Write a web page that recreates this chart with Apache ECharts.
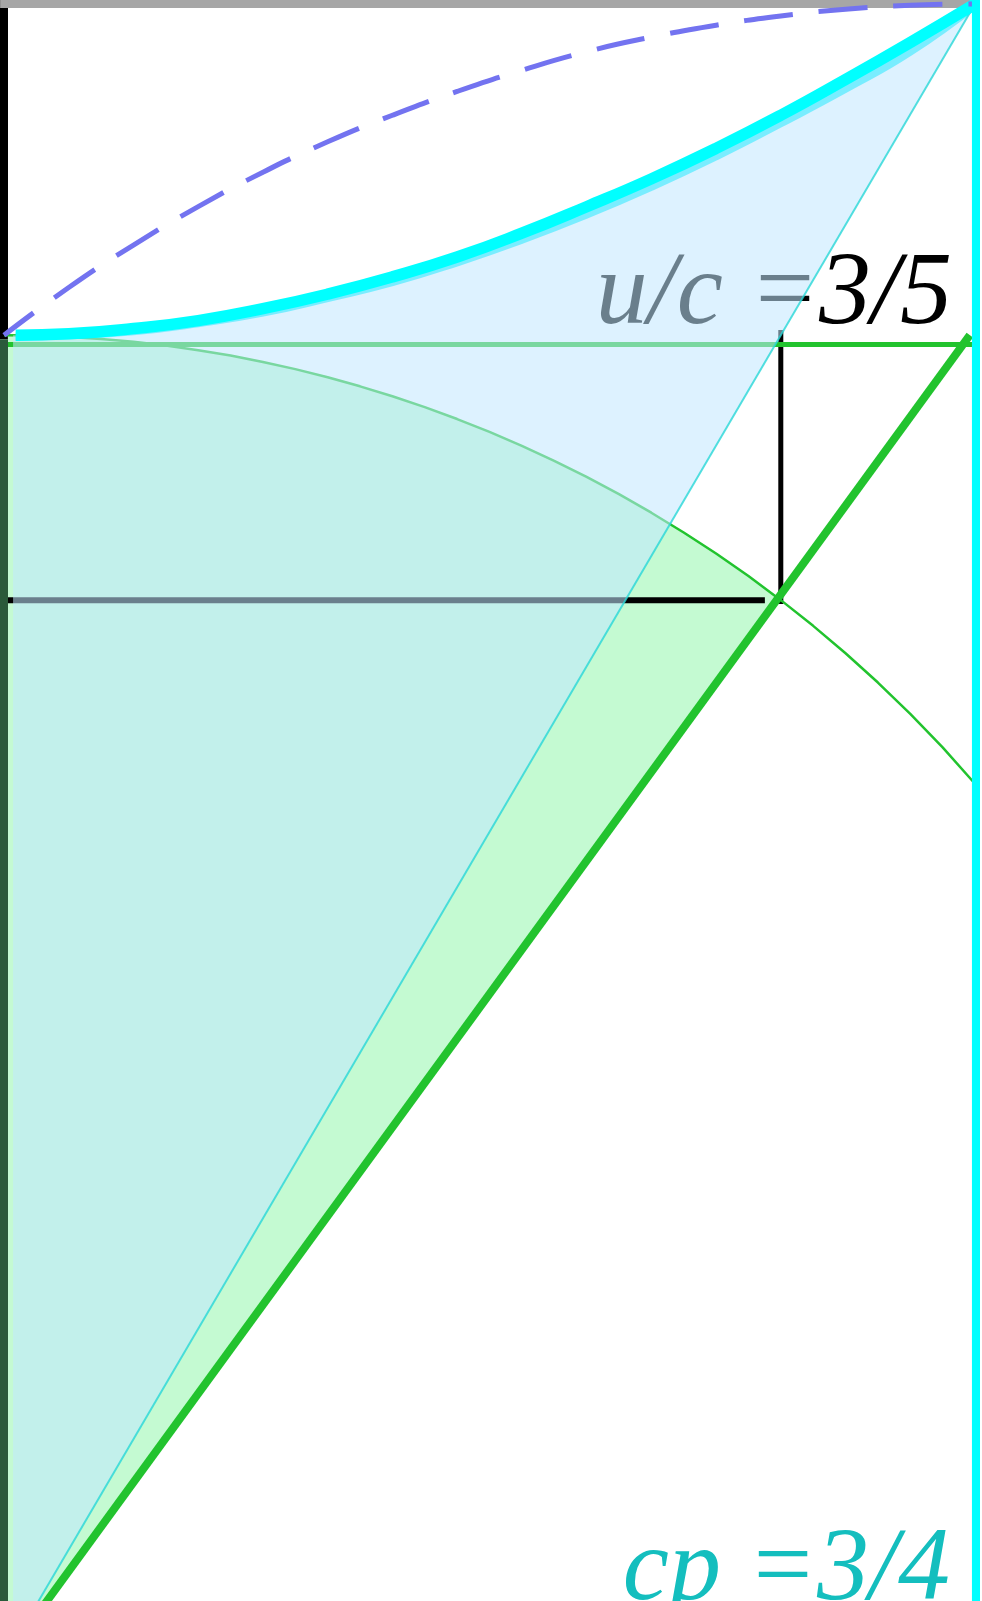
<!DOCTYPE html>
<html>
<head>
<meta charset="utf-8">
<script src="https://cdn.jsdelivr.net/npm/echarts@6/dist/echarts.min.js"></script>
<style>
html,body{margin:0;padding:0;background:#fff;}
#main{width:982px;height:1601px;}
</style>
</head>
<body>
<div id="main"></div>
<script>
// ---- values (x: momentum axis, y: energy axis, unit = rest energy) ----
const speedLabel = 'u/c =3/5';
const momentumLabel = 'cp =3/4';

// hyperbola (thick cyan)
const hyperbolaX = [0.009, 0.05, 0.1, 0.15, 0.2, 0.25, 0.3, 0.35, 0.4, 0.45, 0.5, 0.55, 0.6, 0.65, 0.7, 0.75];
const hyperbolaY = [1.000, 1.001, 1.005, 1.011, 1.020, 1.031, 1.044, 1.059, 1.077, 1.097, 1.118, 1.141, 1.166, 1.193, 1.221, 1.25];
// pale band just under the hyperbola
const bandY = [0.999, 1.000, 1.003, 1.009, 1.017, 1.028, 1.040, 1.055, 1.072, 1.091, 1.112, 1.135, 1.160, 1.186, 1.214, 1.249];

// dashed blue arc
const dashedArcX = [0, 0.05, 0.1, 0.15, 0.2, 0.25, 0.3, 0.35, 0.4, 0.45, 0.5, 0.55, 0.6, 0.65, 0.7, 0.75];
const dashedArcY = [1.0, 1.036, 1.068, 1.097, 1.123, 1.146, 1.166, 1.184, 1.2, 1.214, 1.225, 1.234, 1.241, 1.246, 1.249, 1.25];

// thin green circle arc
const circleX = [0, 0.025, 0.05, 0.075, 0.1, 0.125, 0.15, 0.175, 0.2, 0.225, 0.25, 0.275, 0.3, 0.325, 0.35, 0.375,
                 0.4, 0.425, 0.45, 0.475, 0.5, 0.525, 0.55, 0.575, 0.6, 0.625, 0.65, 0.675, 0.7, 0.725, 0.75, 0.76];
const circleY = [1.0, 0.9997, 0.9987, 0.9972, 0.9950, 0.9922, 0.9887, 0.9846, 0.9798, 0.9744, 0.9682, 0.9614, 0.9539, 0.9457, 0.9367, 0.9270,
                 0.9165, 0.9052, 0.8930, 0.8800, 0.8660, 0.8511, 0.8352, 0.8182, 0.8, 0.7806, 0.7599, 0.7378, 0.7141, 0.6888, 0.6614, 0.6499];

// straight rays and guide lines
const cyanRayX = [0, 0.75];        const cyanRayY = [0, 1.25];
const greenRayX = [0, 0.746];      const greenRayY = [0, 1.0];
const levelOneX = [-0.004, 0.756]; const levelOneY = [0.993, 0.993];
const topLineX = [-0.003, 0.75];   const topLineY = [1.25, 1.25];
const projHX = [-0.001, 0.5877];   const projHY = [0.8, 0.8];
const projVX = [0.6, 0.6];         const projVY = [0.797, 1.004];
const leftTopX = [0, 0];           const leftTopY = [0.997, 1.26];
const leftLowX = [0, 0];           const leftLowY = [0, 0.997];
const rightEdgeX = [0.7515, 0.7515]; const rightEdgeY = [0, 1.26];
const greenFillLeft = 0.003;
const blueFillLeft = 0.007;
const yBottom = 0.0445;   // energy value at the lower edge of the picture
const yTop = 1.25;

function pairs(xs, ys){ return xs.map((x,i)=>[x, ys[i]]); }

const chart = echarts.init(document.getElementById('main'), null, {renderer:'canvas'});

function lineSeries(name, xs, ys, style, z, smooth){
  return {
    name: name, type:'line', data: pairs(xs, ys), z: z, silent:true,
    showSymbol:false, symbol:'none', smooth: smooth || false, clip:false,
    lineStyle: style, animation:false
  };
}

// polygons built from the arrays
function greenSectorPts(){
  const k = circleX.indexOf(projVX[0]);
  const pts = [[greenFillLeft, 0], [circleX[k], circleY[k]]];
  for (let i = k - 1; i >= 1; i--) pts.push([circleX[i], circleY[i]]);
  pts.push([greenFillLeft, circleY[0]]);
  return pts;
}
function blueSectorPts(){
  const pts = [[cyanRayX[0], cyanRayY[0]], [cyanRayX[1], cyanRayY[1]]];
  for (let i = hyperbolaX.length - 2; i >= 0; i--) pts.push([hyperbolaX[i], hyperbolaY[i]]);
  pts.push([blueFillLeft, hyperbolaY[0]]);
  pts.push([blueFillLeft, 0]);
  return pts;
}

const option = {
  animation:false,
  backgroundColor:'#ffffff',
  grid:{left:4, top:4, width:971, bottom:0, containLabel:false},
  xAxis:{type:'value', min:0, max:0.75, show:false},
  yAxis:{type:'value', min:yBottom, max:yTop, show:false},
  graphic:[
    {type:'text', z:0, silent:true,
     style:{text:speedLabel, x:952, y:296, align:'right', verticalAlign:'middle',
            font:'italic 104px "Liberation Serif"', fill:'#000000'}},
    {type:'text', z:0, silent:true,
     style:{text:momentumLabel, x:950, y:1572, align:'right', verticalAlign:'middle',
            font:'italic 104px "Liberation Serif"', fill:'#14bebe'}}
  ],
  series:[
    lineSeries('leftTop', leftTopX, leftTopY, {color:'#000000', width:8}, 1),
    lineSeries('topLine', topLineX, topLineY, {color:'#a6a6a6', width:8}, 1),
    {
      type:'custom', coordinateSystem:'cartesian2d', z:2, silent:true, data:[[0,0]], clip:false,
      renderItem:function(params, api){
        return {type:'polygon', shape:{points:greenSectorPts().map(p=>api.coord(p))},
                style:{fill:'#c4fad2', stroke:'none'}};
      }
    },
    lineSeries('projH', projHX, projHY, {color:'#000000', width:6}, 3),
    lineSeries('projV', projVX, projVY, {color:'#000000', width:5}, 3),
    lineSeries('circle', circleX, circleY, {color:'#22c32e', width:2.5}, 3, false),
    lineSeries('levelOne', levelOneX, levelOneY, {color:'#22c32e', width:5}, 3),
    {
      type:'custom', coordinateSystem:'cartesian2d', z:4, silent:true, data:[[0,0]], clip:false,
      renderItem:function(params, api){
        return {type:'polygon', shape:{points:blueSectorPts().map(p=>api.coord(p))},
                style:{fill:'rgba(193,232,255,0.55)', stroke:'none'}};
      }
    },
    lineSeries('cyanRay', cyanRayX, cyanRayY, {color:'rgba(40,215,215,0.8)', width:2}, 5),
    lineSeries('hyperbolaBand', hyperbolaX, bandY, {color:'rgba(0,230,255,0.45)', width:8}, 5, true),
    lineSeries('hyperbola', hyperbolaX, hyperbolaY, {color:'#00ffff', width:11.5}, 6, true),
    lineSeries('dashedArc', dashedArcX, dashedArcY, {color:'#7373f0', width:5, type:[49,26], dashOffset:12}, 6, true),
    lineSeries('greenRay', greenRayX, greenRayY, {color:'#22c32e', width:8}, 6),
    lineSeries('rightEdge', rightEdgeX, rightEdgeY, {color:'#00ffff', width:10}, 6),
    lineSeries('leftLow', leftLowX, leftLowY, {color:'#2a5a3a', width:8}, 6)
  ]
};
chart.setOption(option);
</script>
</body>
</html>
